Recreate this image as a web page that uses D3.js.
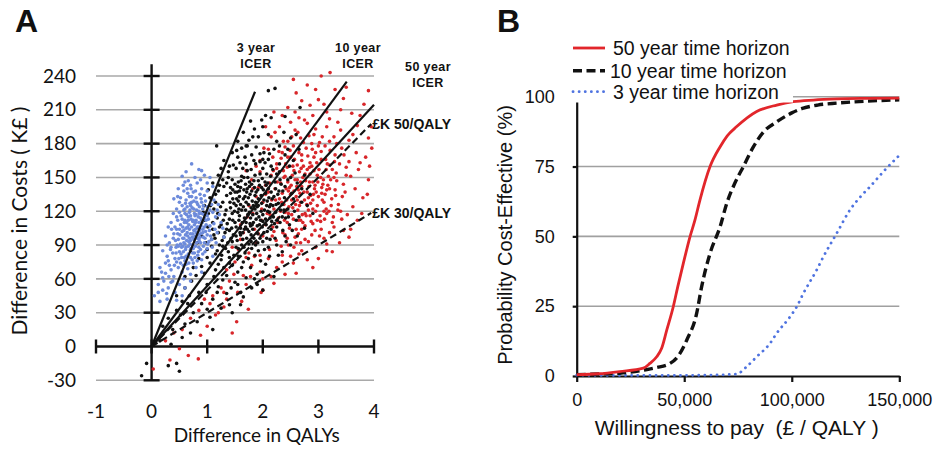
<!DOCTYPE html>
<html>
<head>
<meta charset="utf-8">
<script src="https://cdn.jsdelivr.net/npm/d3@7"></script>
<style>
  body { margin: 0; background: #fff; }
  text { fill: #111; }
  .tickA { font-family: Lato, "Open Sans", sans-serif; font-size: 19px; }
  .tickB { font-family: "Liberation Sans", Arial, sans-serif; font-size: 18px; }
  .labB { font-family: "Liberation Sans", Arial, sans-serif; font-size: 19.5px; white-space: pre; }
  .note { font-family: "Liberation Sans", Arial, sans-serif; font-size: 12.5px; font-weight: bold; letter-spacing: 0.4px; }
</style>
</head>
<body>
<div id="chart"></div>
<script>
// ---- panel A data: incremental cost (K£) vs incremental QALYs ----
let qalyTicks = [-1, 0, 1, 2, 3, 4];
let costTicks = [-30, 0, 30, 60, 90, 120, 150, 180, 210, 240];

// ICER line ends (QALY, K£) and WTP threshold lines
let icerNames = ["3 year", "10 year", "50 year"];
let icerEnds = [[1.86, 226], [3.51, 235], [4.0, 214.5]];
let thresholdNames = ["£K 50/QALY", "£K 30/QALY"];
let thresholdSlopes = [50, 30];
let thresholdEndX = 3.95;

let points3yr = [
  [0.72,162],[0.85,157],[0.62,155],[0.95,152],[0.78,150],[0.55,151],[1.05,150],
  [0.6,146],[0.7,143],[0.82,145],[0.9,140],[1.0,138],[0.48,140],[0.75,137],[0.65,136],[1.1,142],[0.88,148],[0.58,138],
  [0.5,128],[0.62,130],[0.7,125],[0.8,132],[0.9,128],[1.0,124],[1.12,130],[0.45,122],[0.58,121],[0.68,133],[0.76,122],
  [0.85,120],[0.95,134],[1.05,121],[1.2,126],[0.4,131],[0.72,128],[0.83,126],[0.64,124],[0.92,122],
  [0.35,110],[0.45,115],[0.52,108],[0.6,118],[0.66,112],[0.72,106],[0.78,116],[0.85,110],[0.9,118],[0.98,112],
  [1.05,107],[1.15,115],[1.25,110],[0.55,113],[0.68,119],[0.74,111],[0.82,106],[0.88,114],[0.62,105],[0.95,106],
  [0.42,106],[0.7,116],[0.8,112],[1.1,119],[0.5,119],
  [0.25,98],[0.32,92],[0.4,100],[0.48,95],[0.55,102],[0.6,91],[0.65,98],[0.7,94],[0.76,103],[0.82,96],[0.88,100],
  [0.95,92],[1.0,99],[1.08,95],[1.18,101],[0.45,104],[0.58,96],[0.68,104],[0.74,90],[0.86,93],[0.92,104],[1.3,97],
  [0.36,104],[0.52,91],[0.8,101],[0.63,94],
  [0.2,85],[0.28,80],[0.35,88],[0.42,78],[0.5,84],[0.56,89],[0.62,80],[0.7,86],[0.78,79],[0.85,88],[0.92,82],
  [1.0,87],[1.1,80],[0.46,90],[0.6,76],[0.66,89],[0.74,83],[0.82,76],[0.3,76],[0.54,79],[0.9,77],[0.38,83],
  [0.15,70],[0.25,65],[0.32,72],[0.4,62],[0.48,70],[0.55,66],[0.62,73],[0.7,64],[0.8,70],[0.9,66],[0.45,75],
  [0.2,61],[0.58,60],[0.75,74],[0.35,68],
  [0.05,45],[0.12,55],[0.2,50],[0.28,42],[0.35,57],[0.42,48],[0.5,55],[0.6,52],[0.7,58],[0.3,52],[0.15,40],
  [0.45,41],[0.55,45],[0.22,58],
  [0.52,132],[0.61,127],[0.69,121],[0.77,118],[0.86,124],[0.94,117],[1.02,113],[1.12,109],[0.47,112],[0.56,106],
  [0.64,101],[0.73,97],[0.81,92],[0.89,107],[0.97,102],[1.06,98],[1.14,104],[0.39,96],[0.48,89],[0.57,84],
  [0.66,82],[0.75,87],[0.84,84],[0.93,89],[1.03,93],[0.43,94],[0.51,99],[0.59,110],[0.67,108],[0.79,104],
  [0.87,97],[0.96,96],[1.04,103],[0.34,86],[0.41,72],[0.49,78],[0.57,72],[0.65,69],[0.73,77],[0.83,81],
  [0.71,140],[0.79,138],[0.66,147],[0.87,135],[0.97,129],[1.08,126],[1.18,121],[0.55,125],[0.63,117],[0.71,113],
  [0.77,108],[0.84,115],[0.91,110],[0.99,119],[0.53,116],[0.61,99],[0.69,91],[0.76,95],[0.86,103],[0.93,97],
  [1.01,91],[1.09,88],[0.44,83],[0.52,74],[0.61,86],[0.7,79],[0.79,89],[0.88,92],[0.96,84],[0.58,92],
  [0.28,90],[0.31,62],[0.38,58],[0.25,74],[0.18,66],[0.12,48],[0.27,47],[1.22,117],[1.28,105],[1.16,92],
  [0.74,100],[0.66,115],[0.81,121],[0.89,131],[0.57,143],[0.47,133],[0.39,118],[0.3,106],[1.0,145],[0.9,156],
  [0.6,112],[0.65,106],[0.7,100],[0.75,112],[0.8,117],[0.68,96],[0.73,123],[0.78,98],[0.84,106],[0.9,112],
  [0.56,96],[0.62,88],[0.67,93],[0.71,87],[0.77,83],[0.83,99],[0.63,110],[0.58,103],[0.54,88],[0.5,104],
  [0.72,133],[0.81,128],[0.64,140],[0.93,125],[1.0,116],[0.86,118],[0.95,114],[0.69,127],[0.6,122],[0.76,129],
  [0.47,100],[0.53,82],[0.44,88],[0.59,79],[0.67,74],[0.85,95],[0.92,101],[0.98,108],[0.88,86],[0.79,110]
];

let points10yr = [
  [2.1,227],[2.22,229],[2.05,205],[1.98,201],[2.15,203],[2.67,212],[1.78,200],[2.4,204],
  [1.17,178],[1.65,190],[1.85,193],[1.92,186],[2.0,195],[2.1,188],[2.25,182],[2.38,190],[2.5,185],[1.75,183],
  [2.6,188],[1.55,182],
  [1.3,165],[1.45,172],[1.55,168],[1.62,176],[1.7,162],[1.8,170],[1.88,177],[1.95,164],[2.02,172],[2.1,166],
  [2.2,175],[2.3,162],[2.4,170],[2.55,165],[1.4,160],[2.65,175],[1.72,178],[2.15,160],
  [1.1,145],[1.2,152],[1.3,142],[1.38,155],[1.45,148],[1.52,158],[1.6,141],[1.66,150],[1.72,156],[1.8,144],
  [1.86,152],[1.92,147],[2.0,158],[2.06,143],[2.14,151],[2.22,146],[2.3,155],[2.4,142],[2.5,150],[2.62,145],
  [1.25,158],[1.56,146],[1.76,142],[1.98,141],[2.18,157],[1.42,141],[2.75,152],
  [0.95,125],[1.05,132],[1.12,122],[1.2,138],[1.28,128],[1.35,134],[1.42,123],[1.5,137],[1.56,129],[1.62,121],
  [1.68,133],[1.74,126],[1.8,138],[1.86,122],[1.92,131],[1.98,127],[2.05,136],[2.12,124],[2.2,133],[2.28,127],
  [2.36,138],[2.45,122],[2.55,131],[2.7,128],[1.15,128],[1.46,131],[1.66,139],[1.9,124],[2.08,129],[2.32,121],
  [1.02,139],[1.6,126],[2.85,135],
  [0.85,105],[0.95,112],[1.02,118],[1.1,104],[1.18,114],[1.25,108],[1.32,117],[1.4,103],[1.46,112],[1.52,106],
  [1.58,116],[1.64,101],[1.7,110],[1.76,119],[1.82,104],[1.88,113],[1.94,108],[2.0,117],[2.08,102],[2.16,111],
  [2.25,106],[2.35,115],[2.48,108],[2.6,112],[1.36,109],[1.55,119],[1.78,107],[2.05,113],[2.9,118],[1.2,101],[2.12,119],
  [0.7,85],[0.82,92],[0.9,98],[1.0,86],[1.08,95],[1.15,82],[1.22,90],[1.3,97],[1.38,84],[1.45,93],[1.52,88],
  [1.6,99],[1.68,83],[1.75,91],[1.84,96],[1.92,85],[2.0,93],[2.1,88],[2.22,96],[2.35,84],[2.5,90],[1.26,81],
  [1.56,80],[1.8,87],[1.12,99],[2.4,98],
  [0.6,62],[0.75,70],[0.85,78],[0.95,65],[1.05,74],[1.15,68],[1.25,77],[1.35,63],[1.45,72],[1.55,66],[1.65,75],
  [1.78,70],[1.9,64],[2.05,73],[2.2,62],[1.0,79],[1.4,79],[0.9,71],[1.7,61],
  [0.45,45],[0.6,52],[0.72,58],[0.85,48],[1.0,55],[1.1,42],[1.2,53],[1.35,47],[1.5,57],[1.65,44],[1.8,52],
  [0.55,40],[1.28,59],[2.0,50],
  [0.3,25],[0.45,32],[0.6,20],[0.75,30],[0.9,38],[1.05,26],[1.25,34],[1.45,30],[0.2,18],[1.1,15],[0.82,22],[1.6,37],
  [0.15,5],[0.35,2],[0.55,8],[-0.09,-15],[0.3,-17],[0.45,-15],[0.5,-22],[-0.18,-26],
  [1.38,150],[1.46,139],[1.53,131],[1.61,147],[1.69,144],[1.77,135],[1.84,147],[1.91,139],[1.99,149],[2.07,153],
  [2.15,137],[2.23,140],[2.31,148],[2.39,132],[1.41,128],[1.49,120],[1.57,112],[1.65,124],[1.73,117],[1.81,129],
  [1.89,118],[1.97,134],[2.03,121],[2.11,132],[2.19,115],[2.27,135],[2.35,126],[1.44,105],[1.52,98],[1.6,105],
  [1.67,114],[1.75,102],[1.83,110],[1.91,100],[1.99,106],[2.07,96],[2.15,104],[2.23,119],[2.31,110],[2.41,114],
  [1.34,121],[1.29,112],[1.24,124],[1.19,118],[1.32,101],[1.27,94],[1.37,92],[1.47,99],[1.54,94],[1.62,90],
  [1.71,96],[1.79,99],[1.87,90],[1.95,96],[2.03,86],[2.13,95],[2.25,90],[1.47,161],[1.59,163],[1.68,168],
  [1.79,157],[1.87,162],[1.95,171],[2.04,163],[2.12,171],[2.25,153],[2.33,144],[2.45,148],[2.52,136],[2.57,120],
  [2.46,115],[2.53,103],[2.62,98],[2.42,93],[1.33,87],[1.18,85],[1.08,89],[0.98,92],[1.1,110],[1.01,106],
  [0.93,119],[1.06,125],[1.15,135],[1.22,143],[1.28,148],[1.35,145],[1.42,136],[1.5,144],[1.58,138],[1.65,131],
  [1.72,140],[1.79,123],[1.86,134],[1.94,143],[2.01,139],[2.09,145],[2.18,125],[2.26,112],[2.36,103],[1.72,104],
  [1.64,95],[1.56,87],[1.48,81],[1.4,74],[1.3,70],[1.2,73],[1.12,62],[1.62,70],[1.74,78],[1.86,81],
  [1.96,76],[2.12,80],[2.28,81],[1.55,55],[1.43,52],[1.6,48],[0.68,45],[0.8,63],[0.98,48],[1.18,48],
  [1.85,60],[2.0,66],[1.7,178],[1.82,186],[2.3,178],[2.45,175],[1.53,174],[2.48,160],[2.58,154],[2.7,140],
  [2.8,125],[2.65,115],[2.75,105],[1.9,55],[1.4,37],[0.65,38],[0.38,15],[1.0,33],[0.52,28],[0.7,12],
  [1.45,118],[1.52,125],[1.58,133],[1.63,110],[1.69,121],[1.74,132],[1.78,114],[1.83,125],[1.88,137],[1.93,115],
  [1.97,120],[2.02,130],[2.06,108],[2.1,140],[2.14,126],[1.5,110],[1.55,142],[1.62,151],[1.7,128],[1.76,146],
  [1.81,108],[1.85,141],[1.9,107],[1.95,153],[2.0,111],[2.04,146],[2.09,120],[2.17,131],[2.21,109],[1.4,113],
  [1.48,127],[1.57,122],[1.67,104],[1.73,150],[1.87,128],[1.96,112],[2.13,114],[2.24,126],[1.43,96],[1.59,101],
  [1.66,88],[1.79,93],[1.91,92],[2.02,101],[1.35,104],[1.28,89],[1.22,106],[1.14,96],[2.29,138],[2.38,121],
  [1.64,158],[1.84,165],[2.0,166],[1.54,137],[1.71,137],[1.82,117],[1.92,125],[2.07,125],[1.69,106],[1.77,109]
];

let points50yr = [
  [2.55,237],[3.21,243],[3.05,240],[2.8,232],[3.3,228],[2.6,225],[3.5,230],[3.9,227],
  [2.45,212],[2.7,218],[2.9,205],[3.1,215],[3.2,202],[3.4,210],[2.35,205],[2.75,201],[3.0,219],[3.6,207],
  [3.82,215],[2.2,208],
  [2.15,186],[2.3,195],[2.45,182],[2.58,192],[2.68,185],[2.8,198],[2.92,188],[3.02,181],[3.15,195],[3.28,186],
  [3.4,192],[3.55,183],[3.7,196],[2.5,199],[2.88,180],[3.62,188],[2.05,195],[3.9,185],
  [1.95,165],[2.1,175],[2.25,162],[2.35,172],[2.45,168],[2.55,178],[2.62,161],[2.7,170],[2.78,176],[2.85,163],
  [2.95,172],[3.05,166],[3.12,178],[3.2,161],[3.3,170],[3.42,176],[3.55,164],[3.68,172],[3.85,168],[2.4,177],
  [2.88,160],[3.0,178],[3.38,162],[2.18,168],
  [1.8,148],[1.95,155],[2.05,143],[2.15,152],[2.25,158],[2.32,145],[2.4,151],[2.48,141],[2.56,156],[2.62,148],
  [2.7,142],[2.76,153],[2.84,159],[2.9,146],[2.98,152],[3.06,141],[3.14,157],[3.22,148],[3.32,154],[3.45,144],
  [3.58,151],[3.72,157],[3.9,148],[2.44,159],[2.66,155],[2.94,143],[3.18,151],[2.22,140],[3.5,159],[1.7,156],
  [1.75,125],[1.88,133],[2.0,128],[2.1,137],[2.2,122],[2.3,131],[2.38,126],[2.46,138],[2.54,123],[2.6,133],
  [2.68,128],[2.74,137],[2.82,121],[2.9,130],[2.98,125],[3.06,136],[3.14,122],[3.24,131],[3.36,126],[3.48,137],
  [3.62,124],[3.8,132],[2.42,121],[2.64,139],[2.86,134],[3.1,128],[2.16,130],[2.52,130],[3.3,139],
  [1.6,108],[1.72,115],[1.85,104],[1.98,112],[2.08,118],[2.18,106],[2.28,114],[2.36,101],[2.44,110],[2.52,117],
  [2.6,104],[2.68,112],[2.76,107],[2.85,116],[2.94,103],[3.04,111],[3.15,118],[3.28,106],[3.42,113],[3.58,104],
  [2.4,119],[2.64,100],[2.9,109],[2.2,102],[3.2,101],
  [1.45,88],[1.6,95],[1.75,83],[1.88,92],[2.0,98],[2.12,86],[2.24,94],[2.35,81],[2.46,90],[2.58,97],[2.7,85],
  [2.82,93],[2.95,88],[3.1,96],[3.25,84],[1.95,81],[2.4,99],[2.65,82],[3.15,85],
  [1.35,68],[1.5,75],[1.65,63],[1.8,72],[1.95,66],[2.1,78],[2.25,70],[2.4,64],[2.55,74],[2.0,60],[1.7,79],[2.8,77],
  [1.1,45],[1.25,52],[1.4,58],[1.55,48],[1.7,55],[1.97,48],[2.0,50],[1.35,42],[2.2,56],
  [0.7,25],[0.85,32],[1.0,18],[1.15,28],[1.3,35],[1.53,22],[1.74,33],[0.55,15],[1.05,38],[0.4,12],
  [0.03,-20],[0.33,-12],[0.66,-8],[0.84,-11],[0.5,-2],[0.25,5],
  [2.33,167],[2.41,162],[2.49,174],[2.57,166],[2.65,172],[2.73,160],[2.81,169],[2.89,175],[2.97,163],[3.05,173],
  [3.13,166],[3.21,174],[3.29,164],[2.37,156],[2.45,146],[2.53,152],[2.61,142],[2.69,158],[2.77,147],[2.85,153],
  [2.93,140],[3.01,157],[3.09,148],[3.17,143],[3.25,157],[3.33,147],[2.35,136],[2.43,130],[2.51,143],[2.59,126],
  [2.67,136],[2.75,130],[2.83,142],[2.91,135],[2.99,146],[3.07,130],[3.15,139],[3.23,125],[3.31,134],[2.39,112],
  [2.47,124],[2.55,113],[2.63,121],[2.71,117],[2.79,126],[2.87,111],[2.95,120],[3.03,116],[3.11,113],[3.19,120],
  [3.27,115],[3.35,121],[2.32,120],[2.26,146],[2.19,156],[2.12,145],[2.05,135],[1.98,122],[1.92,141],[2.13,117],
  [2.23,130],[2.29,173],[2.37,182],[2.52,186],[2.63,190],[2.73,181],[2.83,187],[2.95,193],[3.07,186],[3.2,182],
  [3.33,180],[3.46,170],[3.5,152],[3.43,133],[3.4,120],[3.52,117],[3.66,140],[3.75,163],[3.78,118],[3.7,112],
  [3.55,97],[3.38,92],[3.02,98],[2.88,99],[2.76,95],[2.56,88],[2.33,89],[2.17,98],[2.05,108],[1.92,100],
  [1.82,118],[1.65,101],[1.56,86],[1.85,80],[2.15,62],[2.35,75],[2.5,80],[2.68,92],[3.0,78],[2.6,65],
  [2.9,70],[3.15,91],[1.62,40],[1.78,62],[1.48,64],[1.3,48],[1.2,30],[0.95,42],[0.88,10],[1.45,12],
  [2.58,208],[2.85,214],[3.15,208],[3.35,199],[2.65,203],[2.95,228],[3.45,220],[3.75,205],[3.95,195],[3.92,160],
  [3.88,135],[3.96,176],[2.22,190],[2.02,176],[1.88,160],[1.82,140],[2.72,110],[3.05,104],[3.25,110],[3.45,103],
  [2.42,140],[2.5,135],[2.58,148],[2.66,125],[2.72,150],[2.8,137],[2.86,127],[2.92,156],[3.0,133],[3.08,144],
  [2.46,118],[2.54,160],[2.62,130],[2.7,165],[2.78,116],[2.84,146],[2.96,137],[3.12,135],[2.38,150],[2.56,138],
  [2.64,112],[2.8,157],[2.9,122],[3.04,150],[3.2,140],[2.34,128],[2.48,105],[2.7,104],[2.98,112],[3.16,162],
  [2.27,110],[2.44,96],[2.6,92],[2.76,118],[2.92,168],[3.28,150],[2.5,168],[2.68,146],[3.1,120],[2.82,132]
];

// ---- panel B data: cost-effectiveness acceptability curves ----
let probTicks = [0, 25, 50, 75, 100];
let wtpTicks = [0, 50000, 100000, 150000];
let horizonNames = ["50 year time horizon", "10 year time horizon", "3 year time horizon"];

let wtp50 = [0, 10000, 20000, 31000, 34000, 37200, 39500, 41900, 44900, 47000, 49600, 52700, 55000, 57300, 62000,
             66700, 70000, 74400, 83700, 93000, 100700, 110000, 121000, 135000, 150000];
let prob50 = [0.5, 0.8, 1.6, 2.8, 4.5, 6.9, 9.9, 16.5, 24.8, 32, 40.4, 49.9, 55.9, 63, 75,
              82.1, 86, 89.3, 94.7, 97, 98.2, 98.8, 99.2, 99.4, 99.5];

let wtp10 = [0, 10000, 20000, 31000, 37000, 43400, 47500, 51200, 55800, 58100, 62000, 66700, 69800, 73500, 77500,
             82200, 87000, 93000, 100000, 105400, 112000, 121000, 135000, 150000];
let prob10 = [0.5, 0.7, 1.0, 2.1, 3.0, 4.5, 7.5, 12.9, 22.5, 32, 43.9, 53.5, 61.9, 69, 75,
              82.1, 87.5, 91, 94.2, 95.9, 97, 97.7, 98.4, 98.9];

let wtp3 = [0, 20000, 40000, 60000, 70000, 74400, 79000, 83700, 89900, 93000, 99200, 102300, 105400, 111600,
            114700, 120900, 127100, 131500, 136400, 143000, 150000];
let prob3 = [0.3, 0.2, 0.2, 0.3, 0.5, 0.7, 3.3, 6.9, 11.7, 15.3, 21.2, 24.8, 29.6, 38,
             42.7, 51.1, 59.5, 63.8, 67.8, 73.5, 79];

let svg = d3.select("#chart").append("svg")
    .attr("width", 935)
    .attr("height", 451)
    .style("background", "#fff");

// ================= panel A =================
let xA = d3.scaleLinear().domain([-1, 4]).range([96, 374]);
let yA = d3.scaleLinear().domain([-30, 240]).range([380.3, 76]);

let gA = svg.append("g");

gA.selectAll("line.grid")
    .data(costTicks.filter(d => d !== 0))
    .enter().append("line")
    .attr("class", "grid")
    .attr("x1", xA(-1)).attr("x2", xA(4))
    .attr("y1", d => yA(d)).attr("y2", d => yA(d))
    .attr("stroke", "#a9a9a9").attr("stroke-width", 1.6);

// tick labels
gA.selectAll("text.ylab")
    .data(costTicks)
    .enter().append("text")
    .attr("class", "tickA")
    .attr("x", 76)
    .attr("y", d => yA(d))
    .attr("dy", "0.35em")
    .attr("text-anchor", "end")
    .text(d => d);

gA.selectAll("text.xlab")
    .data(qalyTicks)
    .enter().append("text")
    .attr("class", "tickA")
    .attr("x", d => xA(d))
    .attr("y", 418)
    .attr("text-anchor", "middle")
    .text(d => d);

// axes with cross ticks
let axisA = gA.append("g").attr("stroke", "#111").attr("stroke-width", 2.4);
axisA.append("line")
    .attr("x1", xA(0)).attr("x2", xA(0))
    .attr("y1", yA(-30)).attr("y2", yA(250.5));
axisA.append("line")
    .attr("x1", xA(-1)).attr("x2", xA(4))
    .attr("y1", yA(0)).attr("y2", yA(0));
axisA.selectAll("line.yt")
    .data(costTicks.filter(d => d !== 0))
    .enter().append("line")
    .attr("x1", xA(0) - 8).attr("x2", xA(0) + 8)
    .attr("y1", d => yA(d)).attr("y2", d => yA(d));
axisA.selectAll("line.xt")
    .data(qalyTicks)
    .enter().append("line")
    .attr("x1", d => xA(d)).attr("x2", d => xA(d))
    .attr("y1", yA(0) - 7).attr("y2", yA(0) + 7);

// scatter clouds
let clouds = [
    {pts: points50yr, color: "#d8262a"},
    {pts: points10yr, color: "#111111"},
    {pts: points3yr, color: "#6d8bdb"}
];
clouds.forEach(c => {
    gA.append("g").selectAll("circle")
        .data(c.pts)
        .enter().append("circle")
        .attr("cx", d => xA(d[0]))
        .attr("cy", d => yA(d[1]))
        .attr("r", 1.8)
        .attr("fill", c.color);
});

// ICER lines
gA.selectAll("line.icer")
    .data(icerEnds)
    .enter().append("line")
    .attr("x1", xA(0)).attr("y1", yA(0))
    .attr("x2", d => xA(d[0])).attr("y2", d => yA(d[1]))
    .attr("stroke", "#111").attr("stroke-width", 2.2);

// WTP threshold lines
gA.selectAll("line.thr")
    .data(thresholdSlopes)
    .enter().append("line")
    .attr("x1", xA(0)).attr("y1", yA(0))
    .attr("x2", xA(thresholdEndX)).attr("y2", d => yA(d * thresholdEndX))
    .attr("stroke", "#111").attr("stroke-width", 2.2)
    .attr("stroke-dasharray", "7,4");

thresholdSlopes.forEach((s, i) => {
    gA.append("text")
        .attr("class", "note")
        .style("font-size", "14px")
        .style("letter-spacing", "0px")
        .attr("x", xA(thresholdEndX) + 1)
        .attr("y", yA(s * thresholdEndX) + 5)
        .text(thresholdNames[i]);
});

let icerLabelPos = [[256, 52], [358, 52], [428, 71]];
icerNames.forEach((n, i) => {
    let t = gA.append("text")
        .attr("class", "note")
        .attr("text-anchor", "middle")
        .attr("x", icerLabelPos[i][0])
        .attr("y", icerLabelPos[i][1]);
    t.append("tspan").attr("x", icerLabelPos[i][0]).text(n);
    t.append("tspan").attr("x", icerLabelPos[i][0]).attr("dy", 16).text("ICER");
});

gA.append("text")
    .attr("x", 256.7).attr("y", 442)
    .attr("text-anchor", "middle")
    .style("font-family", "Lato, sans-serif").style("font-size", "19px")
    .text("Difference in QALYs");

gA.append("text")
    .attr("transform", "translate(27,221) rotate(-90)")
    .attr("text-anchor", "middle")
    .style("font-family", "Lato, sans-serif").style("font-size", "21px")
    .text("Difference in Costs ( K£ )");

svg.append("text")
    .attr("x", 15).attr("y", 32)
    .style("font-family", "Liberation Sans, Arial, sans-serif")
    .style("font-size", "32px").style("font-weight", "bold")
    .text("A");

// ================= panel B =================
let xB = d3.scaleLinear().domain([0, 150000]).range([576.7, 899.3]);
let yB = d3.scaleLinear().domain([0, 100]).range([376, 96.7]);

let gB = svg.append("g");

gB.selectAll("line.grid")
    .data(probTicks.filter(d => d > 0))
    .enter().append("line")
    .attr("x1", xB(0)).attr("x2", xB(150000))
    .attr("y1", d => yB(d)).attr("y2", d => yB(d))
    .attr("stroke", "#a0a0a0").attr("stroke-width", 1.6);

gB.append("g")
    .attr("transform", "translate(" + xB(0) + ",0)")
    .call(d3.axisLeft(yB).tickValues(probTicks).tickSizeInner(4).tickSizeOuter(0).tickPadding(18))
    .call(g => g.selectAll("text").attr("class", "tickB").attr("fill", "#111"))
    .call(g => g.selectAll("line, path").attr("stroke", "#111").attr("stroke-width", 2.2));

gB.append("g")
    .attr("transform", "translate(0," + yB(0) + ")")
    .call(d3.axisBottom(xB).tickValues(wtpTicks).tickFormat(d3.format(",")).tickSizeInner(6).tickSizeOuter(0).tickPadding(11))
    .call(g => g.selectAll("text").attr("class", "tickB").attr("fill", "#111"))
    .call(g => g.selectAll("line, path").attr("stroke", "#111").attr("stroke-width", 2.2));

let curveLine = d3.line()
    .x(d => xB(d[0]))
    .y(d => yB(d[1]))
    .curve(d3.curveMonotoneX);

let curves = [
    {w: wtp3, p: prob3, color: "#4f73e0", width: 2.8, dash: "0.1,6", cap: "round"},
    {w: wtp10, p: prob10, color: "#111", width: 3.4, dash: "9,4.5", cap: "butt"},
    {w: wtp50, p: prob50, color: "#e2262b", width: 2.8, dash: null, cap: "butt"}
];
curves.forEach(c => {
    gB.append("path")
        .datum(d3.zip(c.w, c.p))
        .attr("d", curveLine)
        .attr("fill", "none")
        .attr("stroke", c.color)
        .attr("stroke-width", c.width)
        .attr("stroke-linecap", c.cap)
        .attr("stroke-dasharray", c.dash);
});

// legend (white box hides top of grid/axis)
let legend = gB.append("g");
legend.append("rect")
    .attr("x", 562).attr("y", 30).attr("width", 231).attr("height", 72.5)
    .attr("fill", "#fff");
let legendStyles = [curves[2], curves[1], curves[0]];
let legendY = [48, 70.7, 91.7];
horizonNames.forEach((n, i) => {
    let s = legendStyles[i];
    legend.append("line")
        .attr("x1", 573).attr("x2", 605)
        .attr("y1", legendY[i]).attr("y2", legendY[i])
        .attr("stroke", s.color).attr("stroke-width", s.width)
        .attr("stroke-linecap", s.cap)
        .attr("stroke-dasharray", s.dash);
    legend.append("text")
        .attr("class", "labB")
        .attr("x", i === 1 ? 610 : 613)
        .attr("y", legendY[i])
        .attr("dy", "0.36em")
        .text(n);
});

gB.append("text")
    .attr("class", "labB")
    .style("font-size", "21px")
    .attr("x", 736.7).attr("y", 435)
    .attr("text-anchor", "middle")
    .text("Willingness to pay  (£ / QALY )");

gB.append("text")
    .attr("class", "labB")
    .style("font-size", "20px")
    .attr("transform", "translate(512,235) rotate(-90)")
    .attr("text-anchor", "middle")
    .text("Probability Cost-Effective (%)");

svg.append("text")
    .attr("x", 497).attr("y", 32)
    .style("font-family", "Liberation Sans, Arial, sans-serif")
    .style("font-size", "32px").style("font-weight", "bold")
    .text("B");
</script>
</body>
</html>
